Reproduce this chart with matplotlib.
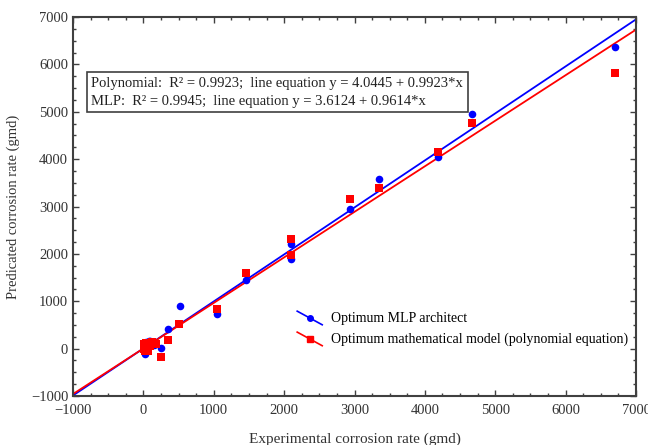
import matplotlib
matplotlib.use("Agg")
import matplotlib.pyplot as plt
import numpy as np
from matplotlib.legend_handler import HandlerBase
from matplotlib.lines import Line2D
from matplotlib.ticker import MultipleLocator

plt.rcParams['font.family'] = ['Liberation Serif', 'DejaVu Serif']

# Experimental vs predicted corrosion rate (gmd)
mlp_x = [6700, 4670, 4180, 3350, 2930, 2100, 2100, 1465, 1050, 515, 355, 250,
         20, 30, 40, 60, 80, 100, 120, 150, 10]
mlp_y = [6360, 4950, 4050, 3570, 2945, 2210, 1890, 1450, 725, 895, 420, 10,
         -110, -60, 150, 30, 160, 160, 100, 80, 60]

poly_x = [6700, 4670, 4180, 3350, 2930, 2100, 2100, 1465, 1050, 505, 355, 250, 155,
          5, 10, 15, 20, 30, 40, 50, 60, 80, 100, 120, 180]
poly_y = [5820, 4755, 4155, 3395, 3160, 2305, 1975, 1590, 830, 515, 175, -170, 125,
          100, 50, 0, -50, 120, 80, 20, -60, 100, 60, 130, 100]

blue_fit = (4.0445, 0.9923)
red_fit = (3.6124, 0.9614)

box_text = ("Polynomial:  R² = 0.9923;  line equation y = 4.0445 + 0.9923*x\n"
            "MLP:  R² = 0.9945;  line equation y = 3.6124 + 0.9614*x")
legend_labels = ["Optimum MLP architect",
                 "Optimum mathematical model (polynomial equation)"]

BLUE = '#0000ff'
RED = '#ff0000'
DARK = '#404040'


class DiagHandler(HandlerBase):
    def create_artists(self, legend, orig_handle, xdescent, ydescent, width,
                       height, fontsize, trans):
        x0, x1 = -xdescent, -xdescent + width
        y0, y1 = -ydescent + height * 1.1, -ydescent - height * 0.3
        line = Line2D([x0, x1], [y0, y1], color=orig_handle.get_color(), lw=1.2)
        mk = Line2D([(x0 + x1) / 2], [(y0 + y1) / 2],
                    marker=orig_handle.get_marker(), color=orig_handle.get_color(),
                    markersize=4, linestyle='none')
        line.set_transform(trans)
        mk.set_transform(trans)
        return [line, mk]


fig = plt.figure(figsize=(6.48, 4.45), dpi=100)
ax = fig.add_axes([0.1127, 0.1101, 0.9815 - 0.1127, 0.9618 - 0.1101])

xs = np.array([-1000, 7000])
ax.plot(xs, blue_fit[0] + blue_fit[1] * xs, color=BLUE, lw=1.3, zorder=2)
ax.plot(xs, red_fit[0] + red_fit[1] * xs, color=RED, lw=1.3, zorder=2)
ax.scatter(mlp_x, mlp_y, s=30, marker='o', color=BLUE, zorder=3, linewidths=0)
ax.scatter(poly_x, poly_y, s=32, marker='s', color=RED, zorder=4, linewidths=0)

ax.set_xlim(-1000, 7000)
ax.set_ylim(-1000, 7000)
ax.xaxis.set_major_locator(MultipleLocator(1000))
ax.yaxis.set_major_locator(MultipleLocator(1000))
ax.xaxis.set_minor_locator(MultipleLocator(250))
ax.yaxis.set_minor_locator(MultipleLocator(250))
ax.tick_params(which='both', direction='in', top=True, right=True, color=DARK,
               labelsize=10.5, labelcolor='#333333')
ax.tick_params(axis='x', which='major', pad=6)
ax.tick_params(which='major', length=4, width=1)
ax.tick_params(which='minor', length=2.5, width=1)
for s in ax.spines.values():
    s.set_color(DARK)
    s.set_linewidth(1.5)

ax.set_xlabel("Experimental corrosion rate (gmd)", fontsize=11, color='#333333', labelpad=11)
ax.set_ylabel("Predicated corrosion rate (gmd)", fontsize=10.5, color='#333333', labelpad=8)

ax.text(-740, 5740, box_text, fontsize=10.5, va='top', ha='left', linespacing=1.5,
        color='#222222',
        bbox=dict(boxstyle='square,pad=0.3', facecolor='white', edgecolor=DARK, lw=1.2))

h1 = Line2D([], [], color=BLUE, marker='o')
h2 = Line2D([], [], color=RED, marker='s')
ax.legend([h1, h2], legend_labels, handler_map={Line2D: DiagHandler()},
          loc='upper left', bbox_to_anchor=(0.376, 0.255), frameon=False,
          fontsize=10, handlelength=1.8, handletextpad=0.6, labelspacing=0.55)

fig.savefig("out.png", dpi=100)
